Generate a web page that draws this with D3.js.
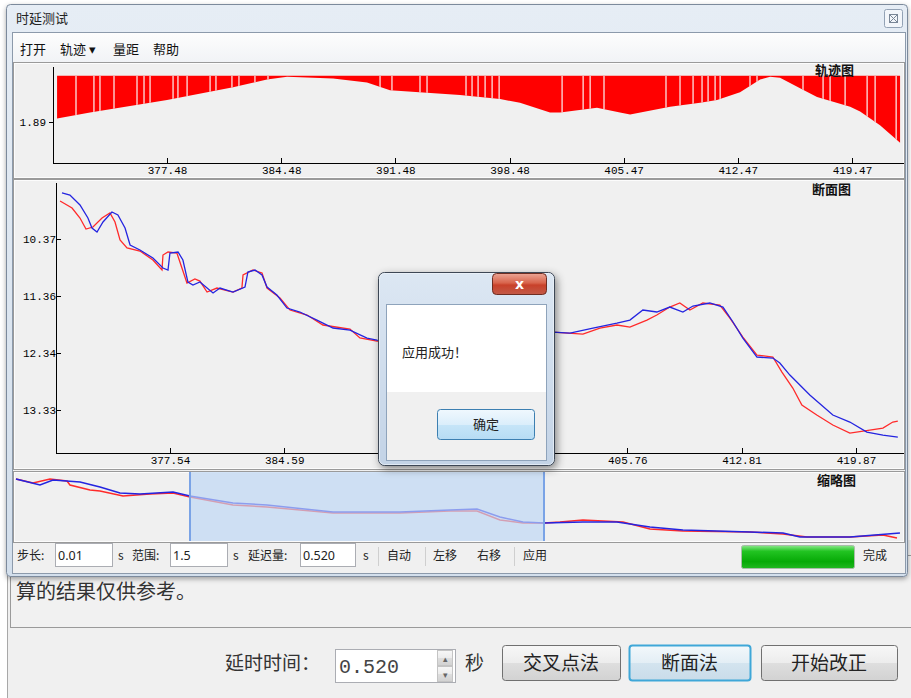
<!DOCTYPE html>
<html><head><meta charset="utf-8">
<script src="https://cdn.jsdelivr.net/npm/d3@7"></script>
<style>
body{margin:0;background:#fff;}
svg{display:block;font-family:"Noto Sans CJK SC","Noto Sans",sans-serif;}
</style></head><body><svg id="c" width="911" height="698"></svg>
<script>
// ---------------- DATA ----------------
// 轨迹图 (track)
const trackTicks = [377.48, 384.48, 391.48, 398.48, 405.47, 412.47, 419.47];
const trackYTicks = [1.89];
const trackBase = 1.938;
const trackX = [370.74,372.76,377.48,381.53,383.61,384.84,387.66,389.74,391.15,395.44,397.90,399.12,400.96,401.58,403.84,405.25,405.87,408.32,410.16,411.20,412.61,413.84,414.45,415.06,416.29,417.33,419.36,419.97,421.19,422.42];
const trackV = [1.894,1.900,1.913,1.926,1.934,1.937,1.935,1.931,1.923,1.918,1.914,1.910,1.900,1.900,1.905,1.900,1.898,1.906,1.910,1.913,1.921,1.934,1.937,1.936,1.925,1.916,1.906,1.901,1.887,1.869];
const trackGaps = [371.90,373.00,373.37,374.23,375.64,376.07,376.44,377.85,378.15,378.71,380.12,380.48,381.46,381.89,382.87,383.67,390.54,391.27,392.99,393.42,395.81,396.18,396.55,396.98,397.41,397.84,401.70,402.99,403.42,404.27,408.07,408.93,409.73,410.28,410.65,411.08,411.39,413.22,413.65,416.47,417.70,418.13,419.05,420.40,420.89,422.18];

// 断面图 (profile)
const profTicksX = [377.54, 384.59, 391.65, 398.70, 405.76, 412.81, 419.87];
const profTicksY = [10.37, 11.36, 12.34, 13.33];
const blueX = [370.88,371.37,371.99,372.48,372.73,373.04,373.41,373.96,374.33,374.77,375.08,375.69,376.49,377.11,377.42,377.54,378.04,378.34,378.65,378.96,379.39,380.20,380.63,381.43,382.17,382.35,382.79,383.22,383.53,384.14,384.76,385.56,386.61,387.60,388.65,389.70,390.31,392.96,396.67,399.13,401.17,402.22,403.64,405.12,405.92,406.72,407.58,408.38,409.19,409.81,410.85,411.66,412.28,412.89,413.76,414.74,415.17,415.79,417.02,418.44,419.49,420.54,421.53,422.45];
const blueY = [9.574,9.609,9.782,10.007,10.180,10.250,10.076,9.903,9.955,10.180,10.475,10.561,10.700,10.873,10.907,10.613,10.596,10.734,11.115,11.167,11.115,11.305,11.219,11.288,11.202,10.942,10.907,10.994,11.202,11.340,11.565,11.634,11.773,11.911,11.946,12.084,12.119,12.154,12.050,12.015,11.981,11.998,11.911,11.825,11.773,11.600,11.634,11.548,11.634,11.530,11.478,11.548,11.807,12.084,12.413,12.431,12.517,12.725,13.071,13.417,13.538,13.712,13.764,13.798];
const redX = [370.76,371.50,371.99,372.36,372.79,373.35,373.84,374.15,374.46,374.89,375.69,376.49,377.05,377.11,377.42,377.97,378.28,378.59,379.08,379.39,379.83,380.44,381.43,381.98,382.05,382.66,383.22,383.53,384.33,384.95,386.00,386.98,388.65,389.26,390.31,392.96,396.67,399.13,401.17,403.02,404.07,405.12,405.92,406.97,407.58,408.38,409.00,409.62,410.42,411.47,412.09,412.89,413.76,414.74,415.30,415.97,416.53,417.45,418.44,419.49,420.72,421.53,422.14,422.45];
const redY = [9.713,9.834,10.007,10.198,10.163,10.007,9.921,10.076,10.388,10.526,10.578,10.734,10.907,10.648,10.596,10.613,10.873,11.132,11.063,11.098,11.288,11.219,11.288,11.219,10.994,10.907,10.959,11.219,11.392,11.600,11.686,11.859,11.929,12.084,12.136,12.171,12.067,12.032,11.981,12.015,11.911,11.859,11.894,11.773,11.686,11.548,11.478,11.600,11.478,11.513,11.738,12.067,12.379,12.413,12.673,12.950,13.244,13.417,13.590,13.729,13.677,13.642,13.538,13.521];

// 缩略图 (overview)
const ovBlueX = [344.82,348.36,350.28,354.27,357.22,360.17,363.13,368.00,370.51,376.85,381.87,391.62,401.51,408.89,412.88,416.27,419.67,422.77,428.52,433.54,438.41,443.28,453.17,458.05,460.56,467.94,475.32];
const ovBlueY = [6.96,7.89,7.11,7.43,8.20,9.14,9.29,8.98,9.60,10.69,11.00,12.09,12.09,11.78,11.62,12.87,13.65,13.80,13.65,13.65,14.42,14.89,15.20,15.36,15.98,15.98,15.36];
const ovRedX = [344.82,347.33,349.84,352.35,352.79,355.74,357.22,360.62,364.60,368.00,370.51,376.85,381.87,391.62,401.51,408.89,412.88,416.27,419.67,422.77,425.13,428.52,434.43,438.41,443.28,453.17,458.05,461.59,467.94,472.81,474.88];
const ovRedY = [6.96,7.58,6.96,7.27,7.89,8.67,8.83,9.60,9.29,9.14,9.76,11.00,11.31,12.25,12.25,11.94,11.94,13.34,13.80,13.80,13.65,13.34,13.65,14.73,15.05,15.20,15.51,15.98,15.98,15.67,16.13];
const ovSelection = [370.51, 422.77];

// UI texts
const menuItems = ["打开", "轨迹 ▾", "量距", "帮助"];
const toolbarValues = {step: "0.01", range: "1.5", delay: "0.520"};

// ---------------- DRAW ----------------
const svg = d3.select('#c');
const defs = svg.append('defs');
function lg(id, stops){ const g = defs.append('linearGradient').attr('id', id).attr('x1',0).attr('y1',0).attr('x2',0).attr('y2',1); stops.forEach(([o,c]) => g.append('stop').attr('offset',o).attr('stop-color',c)); }
lg('title', [[0,'#e6edf5'],[1,'#d3dfec']]);
lg('dlg', [[0,'#dce7f3'],[1,'#c3d3e6']]);
lg('close', [[0,'#eba595'],[0.45,'#d8644c'],[0.55,'#c8412a'],[1,'#c25a48']]);
lg('okbtn', [[0,'#f0f8fe'],[0.5,'#dbeefb'],[0.51,'#c6e5f8'],[1,'#b6dcf4']]);
lg('btn', [[0,'#f7f7f7'],[0.5,'#ececec'],[0.51,'#dedede'],[1,'#d2d2d2']]);
lg('btnsel', [[0,'#f3f8fb'],[0.5,'#e3eef5'],[0.51,'#d3e4ef'],[1,'#c9dce9']]);
lg('prog', [[0,'#8be88b'],[0.25,'#22c422'],[0.7,'#06aa06'],[1,'#20b820']]);
lg('menu', [[0,'#fdfdfd'],[1,'#f1f3f6']]);
const f = defs.append('filter').attr('id','sh').attr('x','-20%').attr('y','-20%').attr('width','140%').attr('height','140%');
f.append('feDropShadow').attr('dx',2).attr('dy',3).attr('stdDeviation',4).attr('flood-color','#000').attr('flood-opacity',0.45);
const f2 = defs.append('filter').attr('id','sh2').attr('x','-5%').attr('y','-5%').attr('width','110%').attr('height','110%');
f2.append('feDropShadow').attr('dx',0).attr('dy',2).attr('stdDeviation',2.5).attr('flood-color','#000').attr('flood-opacity',0.35);

// ---- parent window (behind) ----
svg.append('rect').attr('x',7).attr('y',540).attr('width',904).attr('height',158).attr('fill','#f0f0f0');
svg.append('line').attr('x1',7.5).attr('x2',7.5).attr('y1',540).attr('y2',698).attr('stroke','#a8a8a8');
svg.append('rect').attr('x',10.5).attr('y',555.5).attr('width',910).attr('height',72).attr('fill','#f1f1f1').attr('stroke','#9a9a9a');
svg.append('text').attr('x',16).attr('y',599).attr('font-size',20).attr('fill','#333').text('算的结果仅供参考。');
svg.append('text').attr('x',225).attr('y',670).attr('font-size',19).attr('fill','#333').text('延时时间：');
svg.append('rect').attr('x',335.5).attr('y',649.5).attr('width',120).attr('height',33).attr('fill','#fff').attr('stroke','#abadb3');
svg.append('text').attr('x',339).attr('y',673).attr('font-size',20).attr('fill','#444').attr('font-family','"Liberation Mono","DejaVu Sans Mono",monospace').text(toolbarValues.delay);
[[650,'▴'],[666,'▾']].forEach(([y,t]) => {
  svg.append('rect').attr('x',437.5).attr('y',y+0.5).attr('width',15).attr('height',15).attr('fill','url(#btn)').attr('stroke','#c4c4c4');
  svg.append('text').attr('x',445).attr('y',y+12).attr('text-anchor','middle').attr('font-size',9).attr('fill','#666').text(t);
});
svg.append('text').attr('x',465).attr('y',670).attr('font-size',19).attr('fill','#333').text('秒');
const buttons = [{x:502,w:118,t:'交叉点法'},{x:629,w:121,t:'断面法',sel:true},{x:761,w:136,t:'开始改正'}];
buttons.forEach(b => {
  svg.append('rect').attr('x',b.x+0.5).attr('y',645.5).attr('width',b.w).attr('height',35).attr('rx',3)
    .attr('fill', b.sel ? 'url(#btnsel)' : 'url(#btn)').attr('stroke', b.sel ? '#3fa7d8' : '#707070').attr('stroke-width', b.sel ? 2 : 1);
  svg.append('text').attr('x',b.x+b.w/2).attr('y',670).attr('text-anchor','middle').attr('font-size',19).attr('fill','#222').text(b.t);
});

// ---- main window ----
const win = svg.append('g');
win.append('rect').attr('x',6.5).attr('y',4.5).attr('width',901).attr('height',572).attr('rx',4).attr('fill','url(#title)').attr('stroke','#7b8a9c').attr('filter','url(#sh2)');
win.append('text').attr('x',16).attr('y',23).attr('font-size',13).attr('fill','#222').text('时延测试');
win.append('rect').attr('x',884.5).attr('y',9.5).attr('width',18).attr('height',18).attr('rx',2).attr('fill','#f3f6fa').attr('stroke','#93a2b5');
win.append('rect').attr('x',889.5).attr('y',14.5).attr('width',8).attr('height',8).attr('fill','none').attr('stroke','#7a8797');
win.append('path').attr('d','M890,15L897,22M897,15L890,22').attr('stroke','#7a8797');
// client area
win.append('rect').attr('x',12.5).attr('y',32.5).attr('width',893).attr('height',541).attr('fill','#f0f0f0').attr('stroke','#8c9aab');
win.append('rect').attr('x',13).attr('y',33).attr('width',892).attr('height',29).attr('fill','url(#menu)');
const menuX = [20, 60, 113, 153];
menuItems.forEach((m,i) => win.append('text').attr('x',menuX[i]).attr('y',54).attr('font-size',13).attr('fill','#111').text(m));

function panel(y0, y1){
  win.append('rect').attr('x',13.5).attr('y',y0+0.5).attr('width',891).attr('height',y1-y0).attr('fill','#f0f0f0').attr('stroke','#9a9a9a');
  win.append('rect').attr('x',14.5).attr('y',y0+1.5).attr('width',889).attr('height',y1-y0-2).attr('fill','none').attr('stroke','#ffffff').attr('stroke-opacity',0.8);
}
panel(62, 178);
panel(179, 469);
panel(471, 542);

function styleAxis(g, size){
  g.selectAll('path,line').attr('stroke','#000').attr('shape-rendering','crispEdges');
  g.selectAll('text').attr('font-family','"Liberation Mono","DejaVu Sans Mono",monospace').attr('font-size',size).attr('fill','#000');
}

// ---- track chart ----
const tX = d3.scaleLinear([370.49, 422.6], [53, 903]);
const tY = d3.scaleLinear([1.848, 1.948], [163, 66]);
const trackData = trackX.map((x,i) => [x, trackV[i]]);
const trackArea = d3.area().x(d => tX(d[0])).y0(tY(trackBase)).y1(d => tY(d[1]));
defs.append('clipPath').attr('id','trackClip').append('path').datum(trackData).attr('d', trackArea);
win.append('path').datum(trackData).attr('d', trackArea).attr('fill','#ff0000');
win.append('g').attr('clip-path','url(#trackClip)').selectAll('line').data(trackGaps).join('line')
  .attr('x1', d => tX(d)).attr('x2', d => tX(d))
  .attr('y1', tY(trackBase)).attr('y2', 162)
  .attr('stroke','#fbe3e3').attr('stroke-width',1.3);
const tAx = win.append('g').attr('transform','translate(0,163)')
  .call(d3.axisBottom(tX).tickValues(trackTicks).tickSize(-5).tickSizeOuter(0).tickPadding(3).tickFormat(d3.format('.2f')));
styleAxis(tAx, 11);
const tAy = win.append('g').attr('transform','translate(53,0)')
  .call(d3.axisLeft(tY).tickValues(trackYTicks).tickSize(4).tickSizeOuter(0).tickPadding(3).tickFormat(d3.format('.2f')));
styleAxis(tAy, 11);
win.append('text').attr('x',815).attr('y',75).attr('font-size',13).attr('font-weight','bold').attr('fill','#111').text('轨迹图');

// ---- profile chart ----
const pX = d3.scaleLinear([370.51, 422.77], [56, 903]);
const pY = d3.scaleLinear([9.384, 14.074], [182, 453]);
const pLine = d3.line().x(d => pX(d[0])).y(d => pY(d[1]));
win.append('path').datum(redX.map((x,i)=>[x, redY[i]])).attr('d', pLine).attr('fill','none').attr('stroke','#ff2a2a').attr('stroke-width',1.3);
win.append('path').datum(blueX.map((x,i)=>[x, blueY[i]])).attr('d', pLine).attr('fill','none').attr('stroke','#2424e0').attr('stroke-width',1.3);
const pAx = win.append('g').attr('transform','translate(0,453)')
  .call(d3.axisBottom(pX).tickValues(profTicksX).tickSize(-5).tickSizeOuter(0).tickPadding(3).tickFormat(d3.format('.2f')));
styleAxis(pAx, 11);
const pAy = win.append('g').attr('transform','translate(56,0)')
  .call(d3.axisLeft(pY).tickValues(profTicksY).tickSize(-5).tickSizeOuter(0).tickPadding(0).tickFormat(d3.format('.2f')));
styleAxis(pAy, 11);
win.append('text').attr('x',812).attr('y',194).attr('font-size',13).attr('font-weight','bold').attr('fill','#111').text('断面图');

// ---- overview ----
const oX = d3.scaleLinear([344.82, 475.77], [16, 903]);
const oY = d3.scaleLinear([5.87, 16.6], [472, 541]);
const oLine = d3.line().x(d => oX(d[0])).y(d => oY(d[1]));
win.append('path').datum(ovRedX.map((x,i)=>[x, ovRedY[i]])).attr('d', oLine).attr('fill','none').attr('stroke','#ff2a2a').attr('stroke-width',1.5);
win.append('path').datum(ovBlueX.map((x,i)=>[x, ovBlueY[i]])).attr('d', oLine).attr('fill','none').attr('stroke','#2424e0').attr('stroke-width',1.5);
win.append('rect').attr('x', oX(ovSelection[0])).attr('y',472).attr('width', oX(ovSelection[1]) - oX(ovSelection[0])).attr('height',69)
  .attr('fill','rgb(190,215,245)').attr('fill-opacity',0.68);
ovSelection.forEach(v => win.append('line').attr('x1',oX(v)).attr('x2',oX(v)).attr('y1',472).attr('y2',541).attr('stroke','#7aa3e6').attr('stroke-width',2));
win.append('text').attr('x',817).attr('y',485).attr('font-size',13).attr('font-weight','bold').attr('fill','#111').text('缩略图');

// ---- toolbar ----
const tb = win.append('g').attr('font-size',12).attr('fill','#222');
function tlabel(x, t){ tb.append('text').attr('x',x).attr('y',560).text(t); }
function tinput(x, w, t){
  tb.append('rect').attr('x',x+0.5).attr('y',543.5).attr('width',w).attr('height',23).attr('fill','#fff').attr('stroke','#abadb3');
  tb.append('text').attr('x',x+3).attr('y',560).attr('font-family','"Noto Sans",sans-serif').attr('font-size',12.5).text(t);
}
function tsep(x){ tb.append('line').attr('x1',x+0.5).attr('x2',x+0.5).attr('y1',547).attr('y2',566).attr('stroke','#cfcfcf'); }
tlabel(17,'步长:'); tinput(55,57,toolbarValues.step); tlabel(118,'s');
tlabel(132,'范围:'); tinput(170,57,toolbarValues.range); tlabel(233,'s');
tlabel(248,'延迟量:'); tinput(300,55,toolbarValues.delay); tlabel(363,'s');
tsep(378); tlabel(387,'自动'); tsep(425); tlabel(433,'左移'); tlabel(477,'右移'); tsep(514); tlabel(523,'应用');
tb.append('rect').attr('x',741.5).attr('y',545.5).attr('width',113).attr('height',23).attr('rx',2).attr('fill','url(#prog)').attr('stroke','#a9bda9');
tlabel(863,'完成');

// ---- dialog ----
const dlg = svg.append('g');
dlg.append('rect').attr('x',378.5).attr('y',272.5).attr('width',176).attr('height',193).attr('rx',6).attr('fill','url(#dlg)').attr('stroke','#3c4654').attr('filter','url(#sh)');
dlg.append('rect').attr('x',379.5).attr('y',273.5).attr('width',174).attr('height',191).attr('rx',5).attr('fill','none').attr('stroke','#eef3f9').attr('stroke-opacity',0.7);
dlg.append('rect').attr('x',386.5).attr('y',304.5).attr('width',160).attr('height',156).attr('fill','#f0f0f0').attr('stroke','#8ea3bb');
dlg.append('rect').attr('x',387).attr('y',305).attr('width',159).attr('height',87).attr('fill','#ffffff');
dlg.append('text').attr('x',402).attr('y',357).attr('font-size',13).attr('fill','#222').text('应用成功！');
dlg.append('rect').attr('x',492.5).attr('y',273.5).attr('width',54).attr('height',21).attr('rx',4).attr('fill','url(#close)').attr('stroke','#6e2d22');
dlg.append('text').attr('x',519.5).attr('y',289).attr('text-anchor','middle').attr('font-size',14).attr('font-weight','bold').attr('fill','#fff').attr('font-family','"DejaVu Sans",sans-serif').text('x');
dlg.append('rect').attr('x',437.5).attr('y',409.5).attr('width',97).attr('height',30).attr('rx',3).attr('fill','url(#okbtn)').attr('stroke','#3c7fb1');
dlg.append('text').attr('x',486).attr('y',429).attr('text-anchor','middle').attr('font-size',13).attr('fill','#222').text('确定');
</script></body></html>
